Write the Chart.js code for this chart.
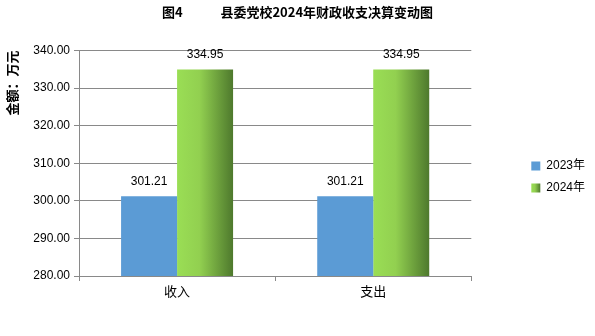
<!DOCTYPE html>
<html>
<head>
<meta charset="utf-8">
<script src="https://cdn.jsdelivr.net/npm/chart.js@4"></script>
<style>
  html, body { margin: 0; padding: 0; background: #fff; }
  #wrap { width: 595px; height: 336px; }
</style>
</head>
<body>
<div id="wrap"><canvas id="chart" width="595" height="336"></canvas></div>
<script>
const categories = ['收入', '支出'];
const seriesNames = ['2023年', '2024年'];
const values2023 = [301.21, 301.21];
const values2024 = [334.95, 334.95];
const yMin = 280, yMax = 340, yStep = 10;

const FONT = "'Liberation Sans', 'Noto Sans CJK SC', sans-serif";
const catPct = 0.571;

function makeGreen(ctx, x0, x1) {
  const g = ctx.createLinearGradient(x0, 0, x1, 0);
  g.addColorStop(0, '#9ade55');
  g.addColorStop(0.4, '#92d050');
  g.addColorStop(1, '#4e792d');
  return g;
}

// green bars fade to dark green on the right
function greenGradient(ctx) {
  const chart = ctx.chart;
  const xs = chart.scales.x;
  if (!xs || ctx.dataIndex === undefined) return '#8cc84b';
  const c = xs.getPixelForValue(ctx.dataIndex);
  const w = (xs.width / categories.length) * catPct / 2;
  if (!isFinite(c) || !isFinite(w) || w <= 0) return '#8cc84b';
  return makeGreen(chart.ctx, c, c + w);
}

const barLabels = {
  id: 'barLabels',
  afterDatasetsDraw(chart) {
    const ctx = chart.ctx;
    ctx.save();
    ctx.font = '12px ' + FONT;
    ctx.fillStyle = '#000';
    ctx.textAlign = 'center';
    ctx.textBaseline = 'middle';
    chart.data.datasets.forEach((ds, i) => {
      chart.getDatasetMeta(i).data.forEach((bar, j) => {
        ctx.fillText(ds.data[j].toFixed(2), bar.x, bar.y - 15);
      });
    });
    ctx.restore();
  }
};

// push the legend (and title) where the original has them
const legendShift = {
  id: 'legendShift',
  afterLayout(chart) {
    const lg = chart.legend;
    if (lg) {
      lg.left += 50; lg.right += 50;
      lg.top += 9; lg.bottom += 9;
    }
    const tb = chart.titleBlock;
    if (tb) { tb.left += 25; tb.right += 25; }
  },
  beforeDraw(chart) {
    const lg = chart.legend;
    if (!lg || !lg.legendItems || !lg.legendItems[1]) return;
    const x0 = lg.left + lg.options.labels.padding;
    if (!isFinite(x0)) return;
    lg.legendItems[1].fillStyle = makeGreen(chart.ctx, x0, x0 + 9);
  }
};

new Chart(document.getElementById('chart'), {
  type: 'bar',
  data: {
    labels: categories,
    datasets: [{
      label: seriesNames[0],
      data: values2023,
      backgroundColor: '#5b9bd5',
      borderWidth: 0
    }, {
      label: seriesNames[1],
      data: values2024,
      backgroundColor: greenGradient,
      borderWidth: 0
    }]
  },
  options: {
    responsive: false,
    animation: false,
    layout: { padding: { left: 0, right: 50, top: 0, bottom: 0 } },
    datasets: {
      bar: { barPercentage: 1, categoryPercentage: catPct }
    },
    scales: {
      x: {
        grid: { display: true, drawOnChartArea: false, color: '#898989', tickLength: 5, offset: true },
        border: { display: true, color: '#898989' },
        ticks: { color: '#000', font: { size: 13, family: FONT }, padding: 4 },
        afterFit(scale) { scale.height = 60; }
      },
      y: {
        min: yMin,
        max: yMax,
        ticks: {
          stepSize: yStep,
          color: '#000',
          font: { size: 12, family: FONT },
          padding: 4,
          callback: v => v.toFixed(2)
        },
        grid: { color: '#898989', tickLength: 5 },
        border: { display: true, color: '#898989' },
        title: {
          display: true,
          text: '金额：万元',
          align: 'end',
          color: '#000',
          font: { size: 13, weight: 'bold', family: "'Noto Sans CJK SC', sans-serif" },
          padding: { top: 4, bottom: 0 }
        },
        afterFit(scale) { scale.width = 79; }
      }
    },
    plugins: {
      title: {
        display: true,
        text: '图4\u3000\u3000    县委党校2024年财政收支决算变动图',
        color: '#000',
        font: { size: 13, weight: 'bold', family: "'Noto Sans CJK SC', sans-serif" },
        padding: { top: 4, bottom: 31 }
      },
      legend: {
        position: 'right',
        labels: {
          boxWidth: 9,
          boxHeight: 9,
          padding: 10,
          color: '#000',
          font: { size: 12, family: FONT }
        }
      },
      tooltip: { enabled: false }
    }
  },
  plugins: [barLabels, legendShift]
});
</script>
</body>
</html>
